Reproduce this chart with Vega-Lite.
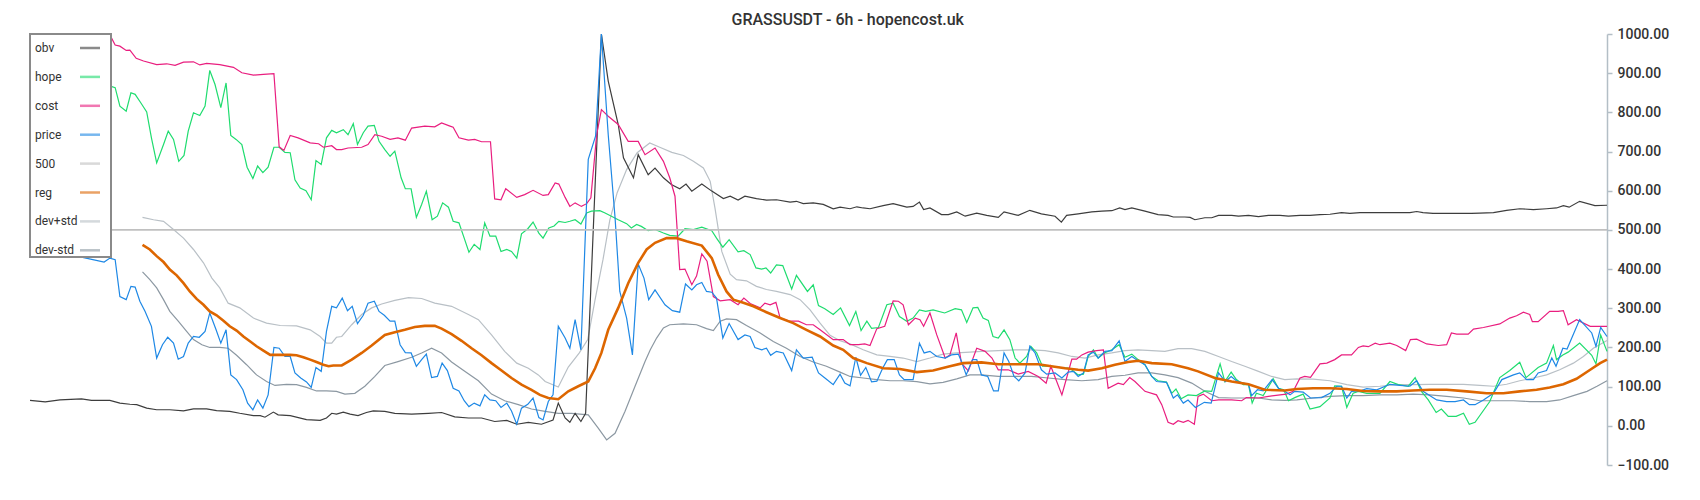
{
"$schema":"https://vega.github.io/schema/vega-lite/v6.json",
"width":1577,"height":431,
"autosize":{"type":"none"},
"padding":{"left":30,"top":34,"right":93,"bottom":35},
"title":{"text":"GRASSUSDT - 6h - hopencost.uk","fontSize":16,"font":"Roboto","fontWeight":500,"color":"#333333","anchor":"middle","frame":"bounds","offset":-1},
"data":{"values":[
{"s":"dev+std","t":21.4,"v":532},{"s":"dev+std","t":23.5,"v":526},{"s":"dev+std","t":25.4,"v":522},{"s":"dev+std","t":27.3,"v":501},{"s":"dev+std","t":29.2,"v":479},{"s":"dev+std","t":31.1,"v":450},{"s":"dev+std","t":33,"v":416},{"s":"dev+std","t":34.6,"v":377},{"s":"dev+std","t":36.1,"v":352},{"s":"dev+std","t":37.7,"v":313},{"s":"dev+std","t":39.9,"v":301},{"s":"dev+std","t":42.5,"v":275},{"s":"dev+std","t":45,"v":262},{"s":"dev+std","t":47.6,"v":256},{"s":"dev+std","t":50.7,"v":255},{"s":"dev+std","t":53.3,"v":245},{"s":"dev+std","t":55.2,"v":228},{"s":"dev+std","t":56.4,"v":211},{"s":"dev+std","t":57.4,"v":211},{"s":"dev+std","t":58.3,"v":226},{"s":"dev+std","t":59.3,"v":228},{"s":"dev+std","t":61.2,"v":258},{"s":"dev+std","t":63.1,"v":284},{"s":"dev+std","t":65,"v":301},{"s":"dev+std","t":66.9,"v":311},{"s":"dev+std","t":69.4,"v":320},{"s":"dev+std","t":72,"v":327},{"s":"dev+std","t":74.5,"v":325},{"s":"dev+std","t":77,"v":313},{"s":"dev+std","t":80.2,"v":305},{"s":"dev+std","t":83.4,"v":284},{"s":"dev+std","t":85.3,"v":271},{"s":"dev+std","t":87.8,"v":232},{"s":"dev+std","t":90.3,"v":190},{"s":"dev+std","t":92.6,"v":160},{"s":"dev+std","t":94.8,"v":147},{"s":"dev+std","t":96.7,"v":130},{"s":"dev+std","t":98,"v":113},{"s":"dev+std","t":100.5,"v":99},{"s":"dev+std","t":102.4,"v":150},{"s":"dev+std","t":104.5,"v":186},{"s":"dev+std","t":106.1,"v":220},{"s":"dev+std","t":107.5,"v":322},{"s":"dev+std","t":109,"v":424},{"s":"dev+std","t":110.3,"v":525},{"s":"dev+std","t":111.7,"v":595},{"s":"dev+std","t":113.5,"v":654},{"s":"dev+std","t":115.5,"v":697},{"s":"dev+std","t":117.9,"v":722},{"s":"dev+std","t":119.8,"v":711},{"s":"dev+std","t":122.1,"v":698},{"s":"dev+std","t":124.3,"v":690},{"s":"dev+std","t":126.2,"v":675},{"s":"dev+std","t":128.1,"v":658},{"s":"dev+std","t":129.4,"v":624},{"s":"dev+std","t":130.3,"v":556},{"s":"dev+std","t":131.6,"v":445},{"s":"dev+std","t":133.2,"v":387},{"s":"dev+std","t":134.4,"v":373},{"s":"dev+std","t":136.3,"v":370},{"s":"dev+std","t":138.2,"v":356},{"s":"dev+std","t":140.1,"v":348},{"s":"dev+std","t":142,"v":343},{"s":"dev+std","t":144.6,"v":335},{"s":"dev+std","t":146.5,"v":322},{"s":"dev+std","t":148.4,"v":296},{"s":"dev+std","t":150.3,"v":262},{"s":"dev+std","t":152.2,"v":231},{"s":"dev+std","t":154.1,"v":217},{"s":"dev+std","t":156,"v":209},{"s":"dev+std","t":158.5,"v":194},{"s":"dev+std","t":161.1,"v":181},{"s":"dev+std","t":163.6,"v":177},{"s":"dev+std","t":166.1,"v":173},{"s":"dev+std","t":168.7,"v":164},{"s":"dev+std","t":171.2,"v":173},{"s":"dev+std","t":173.7,"v":183},{"s":"dev+std","t":176.3,"v":186},{"s":"dev+std","t":178.8,"v":188},{"s":"dev+std","t":181,"v":190},{"s":"dev+std","t":184.2,"v":192},{"s":"dev+std","t":187.4,"v":194},{"s":"dev+std","t":190.5,"v":194},{"s":"dev+std","t":193.1,"v":192},{"s":"dev+std","t":195.6,"v":186},{"s":"dev+std","t":198.2,"v":177},{"s":"dev+std","t":200.7,"v":173},{"s":"dev+std","t":203.2,"v":181},{"s":"dev+std","t":205.8,"v":186},{"s":"dev+std","t":208.3,"v":192},{"s":"dev+std","t":210.8,"v":194},{"s":"dev+std","t":213.4,"v":192},{"s":"dev+std","t":215.9,"v":190},{"s":"dev+std","t":218.4,"v":197},{"s":"dev+std","t":221,"v":197},{"s":"dev+std","t":223.5,"v":190},{"s":"dev+std","t":226.1,"v":177},{"s":"dev+std","t":228.6,"v":164},{"s":"dev+std","t":231.1,"v":152},{"s":"dev+std","t":233.7,"v":139},{"s":"dev+std","t":236.2,"v":126},{"s":"dev+std","t":238.7,"v":118},{"s":"dev+std","t":241,"v":120},{"s":"dev+std","t":244.1,"v":119},{"s":"dev+std","t":247.3,"v":115},{"s":"dev+std","t":250.5,"v":105},{"s":"dev+std","t":253.6,"v":99},{"s":"dev+std","t":256.8,"v":101},{"s":"dev+std","t":260,"v":105},{"s":"dev+std","t":263.1,"v":105},{"s":"dev+std","t":266.3,"v":106},{"s":"dev+std","t":269.5,"v":106},{"s":"dev+std","t":272.7,"v":106},{"s":"dev+std","t":275.8,"v":103},{"s":"dev+std","t":278.4,"v":101},{"s":"dev+std","t":280.9,"v":106},{"s":"dev+std","t":283.4,"v":115},{"s":"dev+std","t":286,"v":122},{"s":"dev+std","t":288.5,"v":130},{"s":"dev+std","t":291,"v":143},{"s":"dev+std","t":293.6,"v":160},{"s":"dev+std","t":295.5,"v":177},{"s":"dev+std","t":297.4,"v":198},{"s":"dev+std","t":300,"v":218},
{"s":"dev-std","t":21.4,"v":393},{"s":"dev-std","t":22.8,"v":373},{"s":"dev-std","t":24.1,"v":352},{"s":"dev-std","t":25.4,"v":322},{"s":"dev-std","t":26.6,"v":292},{"s":"dev-std","t":28.2,"v":267},{"s":"dev-std","t":29.8,"v":241},{"s":"dev-std","t":31.1,"v":220},{"s":"dev-std","t":32.7,"v":207},{"s":"dev-std","t":34.2,"v":200},{"s":"dev-std","t":36.1,"v":200},{"s":"dev-std","t":37.7,"v":198},{"s":"dev-std","t":39.3,"v":180},{"s":"dev-std","t":41.2,"v":156},{"s":"dev-std","t":43.1,"v":130},{"s":"dev-std","t":45,"v":113},{"s":"dev-std","t":46.6,"v":103},{"s":"dev-std","t":48.8,"v":106},{"s":"dev-std","t":50.7,"v":105},{"s":"dev-std","t":52.6,"v":98},{"s":"dev-std","t":54.5,"v":89},{"s":"dev-std","t":56.4,"v":89},{"s":"dev-std","t":58.3,"v":88},{"s":"dev-std","t":59.9,"v":81},{"s":"dev-std","t":61.8,"v":83},{"s":"dev-std","t":63.7,"v":101},{"s":"dev-std","t":65.6,"v":126},{"s":"dev-std","t":67.5,"v":154},{"s":"dev-std","t":70,"v":164},{"s":"dev-std","t":72.6,"v":175},{"s":"dev-std","t":74.5,"v":186},{"s":"dev-std","t":76.4,"v":198},{"s":"dev-std","t":78.3,"v":186},{"s":"dev-std","t":80.2,"v":163},{"s":"dev-std","t":82.7,"v":139},{"s":"dev-std","t":85.3,"v":115},{"s":"dev-std","t":87.8,"v":81},{"s":"dev-std","t":90.3,"v":64},{"s":"dev-std","t":92.9,"v":54},{"s":"dev-std","t":95.4,"v":43},{"s":"dev-std","t":98,"v":37},{"s":"dev-std","t":100.5,"v":32},{"s":"dev-std","t":103,"v":32},{"s":"dev-std","t":106.2,"v":28},{"s":"dev-std","t":108.1,"v":-6},{"s":"dev-std","t":109.7,"v":-36},{"s":"dev-std","t":111.3,"v":-19},{"s":"dev-std","t":113.2,"v":37},{"s":"dev-std","t":115.1,"v":101},{"s":"dev-std","t":117,"v":164},{"s":"dev-std","t":118,"v":194},{"s":"dev-std","t":119.2,"v":224},{"s":"dev-std","t":120.5,"v":250},{"s":"dev-std","t":121.7,"v":258},{"s":"dev-std","t":124.3,"v":260},{"s":"dev-std","t":126.8,"v":258},{"s":"dev-std","t":128.7,"v":248},{"s":"dev-std","t":130,"v":243},{"s":"dev-std","t":131.3,"v":267},{"s":"dev-std","t":132.5,"v":273},{"s":"dev-std","t":134.4,"v":271},{"s":"dev-std","t":136.3,"v":256},{"s":"dev-std","t":138.9,"v":237},{"s":"dev-std","t":141.4,"v":215},{"s":"dev-std","t":143.9,"v":198},{"s":"dev-std","t":146.5,"v":177},{"s":"dev-std","t":149,"v":163},{"s":"dev-std","t":151.5,"v":152},{"s":"dev-std","t":154.1,"v":137},{"s":"dev-std","t":156,"v":126},{"s":"dev-std","t":158.5,"v":122},{"s":"dev-std","t":161.1,"v":118},{"s":"dev-std","t":163.6,"v":115},{"s":"dev-std","t":166.1,"v":115},{"s":"dev-std","t":168.7,"v":113},{"s":"dev-std","t":171.2,"v":107},{"s":"dev-std","t":173.7,"v":111},{"s":"dev-std","t":176.3,"v":120},{"s":"dev-std","t":178.8,"v":130},{"s":"dev-std","t":181,"v":130},{"s":"dev-std","t":184.2,"v":126},{"s":"dev-std","t":187.4,"v":126},{"s":"dev-std","t":190.5,"v":126},{"s":"dev-std","t":193.7,"v":122},{"s":"dev-std","t":196.9,"v":118},{"s":"dev-std","t":200.1,"v":115},{"s":"dev-std","t":203.2,"v":118},{"s":"dev-std","t":205.8,"v":126},{"s":"dev-std","t":208.3,"v":129},{"s":"dev-std","t":210.8,"v":135},{"s":"dev-std","t":213.4,"v":135},{"s":"dev-std","t":215.9,"v":130},{"s":"dev-std","t":218.4,"v":123},{"s":"dev-std","t":221,"v":109},{"s":"dev-std","t":223.5,"v":88},{"s":"dev-std","t":226.1,"v":72},{"s":"dev-std","t":228.6,"v":71},{"s":"dev-std","t":231.1,"v":71},{"s":"dev-std","t":233.7,"v":71},{"s":"dev-std","t":236.2,"v":66},{"s":"dev-std","t":238.7,"v":65},{"s":"dev-std","t":241,"v":66},{"s":"dev-std","t":244.1,"v":71},{"s":"dev-std","t":247.3,"v":75},{"s":"dev-std","t":250.5,"v":77},{"s":"dev-std","t":253.6,"v":77},{"s":"dev-std","t":256.8,"v":79},{"s":"dev-std","t":260,"v":79},{"s":"dev-std","t":263.1,"v":81},{"s":"dev-std","t":266.3,"v":79},{"s":"dev-std","t":269.5,"v":75},{"s":"dev-std","t":272.7,"v":71},{"s":"dev-std","t":275.8,"v":64},{"s":"dev-std","t":279,"v":64},{"s":"dev-std","t":282.2,"v":64},{"s":"dev-std","t":285.3,"v":62},{"s":"dev-std","t":288.5,"v":62},{"s":"dev-std","t":291,"v":66},{"s":"dev-std","t":293.6,"v":77},{"s":"dev-std","t":296.2,"v":88},{"s":"dev-std","t":298.1,"v":101},{"s":"dev-std","t":300,"v":115},
{"s":"500","t":0,"v":500},{"s":"500","t":300,"v":500},
{"s":"obv","t":0,"v":65},{"s":"obv","t":2.9,"v":61},{"s":"obv","t":5.7,"v":66},{"s":"obv","t":9.8,"v":69},{"s":"obv","t":11.7,"v":65},{"s":"obv","t":15.2,"v":65},{"s":"obv","t":17.1,"v":58},{"s":"obv","t":19,"v":55},{"s":"obv","t":20.3,"v":54},{"s":"obv","t":22.2,"v":45},{"s":"obv","t":24.1,"v":41},{"s":"obv","t":26.6,"v":41},{"s":"obv","t":29.2,"v":38},{"s":"obv","t":31.1,"v":43},{"s":"obv","t":33.6,"v":43},{"s":"obv","t":35.5,"v":39},{"s":"obv","t":38,"v":37},{"s":"obv","t":39.9,"v":32},{"s":"obv","t":42.5,"v":26},{"s":"obv","t":43.8,"v":26},{"s":"obv","t":44.7,"v":22},{"s":"obv","t":46.3,"v":35},{"s":"obv","t":47.2,"v":28},{"s":"obv","t":49.5,"v":26},{"s":"obv","t":52.6,"v":16},{"s":"obv","t":55.2,"v":14},{"s":"obv","t":56.4,"v":20},{"s":"obv","t":57.4,"v":32},{"s":"obv","t":58.3,"v":30},{"s":"obv","t":59.6,"v":35},{"s":"obv","t":60.9,"v":30},{"s":"obv","t":62.4,"v":26},{"s":"obv","t":64,"v":34},{"s":"obv","t":65.3,"v":38},{"s":"obv","t":67.5,"v":37},{"s":"obv","t":69.4,"v":32},{"s":"obv","t":72.6,"v":30},{"s":"obv","t":75.8,"v":32},{"s":"obv","t":78.3,"v":34},{"s":"obv","t":80.8,"v":23},{"s":"obv","t":83.4,"v":20},{"s":"obv","t":85.9,"v":20},{"s":"obv","t":88.4,"v":11},{"s":"obv","t":90.7,"v":14},{"s":"obv","t":92.6,"v":4},{"s":"obv","t":94.8,"v":9},{"s":"obv","t":97.3,"v":4},{"s":"obv","t":99.5,"v":15},{"s":"obv","t":100.5,"v":58},{"s":"obv","t":101.8,"v":20},{"s":"obv","t":102.7,"v":9},{"s":"obv","t":103.7,"v":32},{"s":"obv","t":104.8,"v":11},{"s":"obv","t":105.7,"v":32},{"s":"obv","t":108.7,"v":1000},{"s":"obv","t":110,"v":880},{"s":"obv","t":111.9,"v":769},{"s":"obv","t":112.9,"v":684},{"s":"obv","t":114.8,"v":633},{"s":"obv","t":115.7,"v":692},{"s":"obv","t":117.6,"v":641},{"s":"obv","t":118.9,"v":658},{"s":"obv","t":120.5,"v":633},{"s":"obv","t":122,"v":616},{"s":"obv","t":123.6,"v":605},{"s":"obv","t":124.8,"v":617},{"s":"obv","t":125.9,"v":599},{"s":"obv","t":127.8,"v":617},{"s":"obv","t":129.7,"v":599},{"s":"obv","t":131.9,"v":580},{"s":"obv","t":133.2,"v":586},{"s":"obv","t":134.7,"v":576},{"s":"obv","t":136,"v":586},{"s":"obv","t":138.2,"v":580},{"s":"obv","t":140.1,"v":576},{"s":"obv","t":142,"v":577},{"s":"obv","t":144.6,"v":571},{"s":"obv","t":145.8,"v":573},{"s":"obv","t":147.1,"v":567},{"s":"obv","t":149,"v":569},{"s":"obv","t":150.9,"v":565},{"s":"obv","t":152.8,"v":554},{"s":"obv","t":154.1,"v":558},{"s":"obv","t":156,"v":554},{"s":"obv","t":157.3,"v":559},{"s":"obv","t":158.5,"v":556},{"s":"obv","t":159.8,"v":554},{"s":"obv","t":162.3,"v":562},{"s":"obv","t":164.2,"v":567},{"s":"obv","t":166.8,"v":558},{"s":"obv","t":168,"v":560},{"s":"obv","t":169.2,"v":571},{"s":"obv","t":170,"v":552},{"s":"obv","t":171.2,"v":556},{"s":"obv","t":173.4,"v":539},{"s":"obv","t":174.7,"v":539},{"s":"obv","t":176.3,"v":546},{"s":"obv","t":177.9,"v":535},{"s":"obv","t":180.1,"v":543},{"s":"obv","t":182,"v":537},{"s":"obv","t":184.2,"v":532},{"s":"obv","t":185.3,"v":546},{"s":"obv","t":188,"v":537},{"s":"obv","t":190.2,"v":550},{"s":"obv","t":192.4,"v":541},{"s":"obv","t":195,"v":535},{"s":"obv","t":196.2,"v":520},{"s":"obv","t":197.2,"v":537},{"s":"obv","t":199.4,"v":541},{"s":"obv","t":202,"v":546},{"s":"obv","t":203.9,"v":548},{"s":"obv","t":205.8,"v":549},{"s":"obv","t":207.3,"v":556},{"s":"obv","t":208.3,"v":552},{"s":"obv","t":209.6,"v":556},{"s":"obv","t":212.1,"v":548},{"s":"obv","t":214.6,"v":539},{"s":"obv","t":216.5,"v":537},{"s":"obv","t":217.5,"v":533},{"s":"obv","t":219.7,"v":533},{"s":"obv","t":220.7,"v":532},{"s":"obv","t":221.6,"v":526},{"s":"obv","t":223.5,"v":531},{"s":"obv","t":224.8,"v":531},{"s":"obv","t":226.1,"v":537},{"s":"obv","t":228.6,"v":537},{"s":"obv","t":229.9,"v":535},{"s":"obv","t":231.8,"v":537},{"s":"obv","t":233.7,"v":534},{"s":"obv","t":235.6,"v":537},{"s":"obv","t":237.8,"v":537},{"s":"obv","t":239.4,"v":535},{"s":"obv","t":241.6,"v":537},{"s":"obv","t":243.5,"v":537},{"s":"obv","t":245.4,"v":539},{"s":"obv","t":247.3,"v":540},{"s":"obv","t":249.5,"v":544},{"s":"obv","t":251.1,"v":542},{"s":"obv","t":253,"v":544},{"s":"obv","t":255.5,"v":544},{"s":"obv","t":258.1,"v":544},{"s":"obv","t":260.6,"v":544},{"s":"obv","t":262.5,"v":544},{"s":"obv","t":263.8,"v":547},{"s":"obv","t":265,"v":544},{"s":"obv","t":266.9,"v":542},{"s":"obv","t":269.5,"v":542},{"s":"obv","t":272,"v":542},{"s":"obv","t":274.2,"v":542},{"s":"obv","t":275.8,"v":543},{"s":"obv","t":278.4,"v":544},{"s":"obv","t":280.9,"v":550},{"s":"obv","t":283.4,"v":554},{"s":"obv","t":286,"v":552},{"s":"obv","t":288.5,"v":554},{"s":"obv","t":290.4,"v":556},{"s":"obv","t":291.7,"v":562},{"s":"obv","t":292.8,"v":558},{"s":"obv","t":294.8,"v":573},{"s":"obv","t":297.7,"v":562},{"s":"obv","t":300,"v":563},
{"s":"hope","t":0,"v":870},{"s":"hope","t":5,"v":880},{"s":"hope","t":10,"v":860},{"s":"hope","t":15.3,"v":867},{"s":"hope","t":16.2,"v":863},{"s":"hope","t":17.1,"v":816},{"s":"hope","t":18.3,"v":803},{"s":"hope","t":19.2,"v":850},{"s":"hope","t":20,"v":846},{"s":"hope","t":21.1,"v":824},{"s":"hope","t":22.2,"v":801},{"s":"hope","t":23.1,"v":735},{"s":"hope","t":24.1,"v":671},{"s":"hope","t":25.4,"v":718},{"s":"hope","t":26.3,"v":752},{"s":"hope","t":27.3,"v":731},{"s":"hope","t":28.3,"v":675},{"s":"hope","t":29.3,"v":690},{"s":"hope","t":30.1,"v":752},{"s":"hope","t":31.1,"v":799},{"s":"hope","t":32.3,"v":792},{"s":"hope","t":33.3,"v":816},{"s":"hope","t":34.2,"v":907},{"s":"hope","t":35.2,"v":871},{"s":"hope","t":36.3,"v":812},{"s":"hope","t":37.3,"v":875},{"s":"hope","t":38.2,"v":741},{"s":"hope","t":39.2,"v":731},{"s":"hope","t":40.3,"v":718},{"s":"hope","t":41.3,"v":660},{"s":"hope","t":42.4,"v":631},{"s":"hope","t":43.3,"v":663},{"s":"hope","t":44.3,"v":646},{"s":"hope","t":45.3,"v":660},{"s":"hope","t":46.4,"v":711},{"s":"hope","t":47.4,"v":711},{"s":"hope","t":48.5,"v":698},{"s":"hope","t":49.5,"v":697},{"s":"hope","t":50.4,"v":628},{"s":"hope","t":51.4,"v":607},{"s":"hope","t":52.5,"v":600},{"s":"hope","t":53.5,"v":577},{"s":"hope","t":54.4,"v":677},{"s":"hope","t":55.4,"v":667},{"s":"hope","t":56.4,"v":735},{"s":"hope","t":57.4,"v":754},{"s":"hope","t":58.3,"v":748},{"s":"hope","t":59.6,"v":756},{"s":"hope","t":60.5,"v":743},{"s":"hope","t":61.5,"v":771},{"s":"hope","t":62.3,"v":718},{"s":"hope","t":63.4,"v":748},{"s":"hope","t":64.3,"v":765},{"s":"hope","t":65.5,"v":767},{"s":"hope","t":66.4,"v":726},{"s":"hope","t":67.5,"v":705},{"s":"hope","t":68.5,"v":688},{"s":"hope","t":69.4,"v":701},{"s":"hope","t":70.6,"v":633},{"s":"hope","t":71.4,"v":605},{"s":"hope","t":72.5,"v":605},{"s":"hope","t":73.5,"v":532},{"s":"hope","t":74.5,"v":565},{"s":"hope","t":75.4,"v":599},{"s":"hope","t":76.5,"v":526},{"s":"hope","t":77.5,"v":535},{"s":"hope","t":78.5,"v":569},{"s":"hope","t":79.6,"v":558},{"s":"hope","t":80.5,"v":522},{"s":"hope","t":81.6,"v":518},{"s":"hope","t":82.6,"v":479},{"s":"hope","t":83.5,"v":443},{"s":"hope","t":84.5,"v":463},{"s":"hope","t":85.6,"v":450},{"s":"hope","t":86.5,"v":518},{"s":"hope","t":87.5,"v":484},{"s":"hope","t":88.6,"v":484},{"s":"hope","t":89.6,"v":445},{"s":"hope","t":90.7,"v":450},{"s":"hope","t":91.6,"v":445},{"s":"hope","t":92.6,"v":428},{"s":"hope","t":93.5,"v":490},{"s":"hope","t":94.7,"v":503},{"s":"hope","t":95.7,"v":520},{"s":"hope","t":96.8,"v":492},{"s":"hope","t":97.6,"v":479},{"s":"hope","t":98.7,"v":505},{"s":"hope","t":99.7,"v":510},{"s":"hope","t":100.6,"v":522},{"s":"hope","t":101.8,"v":519},{"s":"hope","t":102.7,"v":522},{"s":"hope","t":103.7,"v":526},{"s":"hope","t":104.8,"v":515},{"s":"hope","t":105.9,"v":543},{"s":"hope","t":106.8,"v":548},{"s":"hope","t":108.4,"v":549},{"s":"hope","t":109.4,"v":543},{"s":"hope","t":110.6,"v":535},{"s":"hope","t":111.9,"v":526},{"s":"hope","t":113.5,"v":516},{"s":"hope","t":114.4,"v":505},{"s":"hope","t":115.4,"v":514},{"s":"hope","t":116.3,"v":509},{"s":"hope","t":117.6,"v":498},{"s":"hope","t":118.9,"v":501},{"s":"hope","t":120.5,"v":492},{"s":"hope","t":121.7,"v":486},{"s":"hope","t":123.3,"v":484},{"s":"hope","t":124.6,"v":503},{"s":"hope","t":126.2,"v":501},{"s":"hope","t":127.8,"v":507},{"s":"hope","t":129.7,"v":498},{"s":"hope","t":130.6,"v":479},{"s":"hope","t":131.8,"v":456},{"s":"hope","t":133,"v":475},{"s":"hope","t":134.7,"v":444},{"s":"hope","t":135.8,"v":447},{"s":"hope","t":137,"v":437},{"s":"hope","t":138.1,"v":403},{"s":"hope","t":139.2,"v":400},{"s":"hope","t":140,"v":403},{"s":"hope","t":140.9,"v":390},{"s":"hope","t":142,"v":411},{"s":"hope","t":143.2,"v":409},{"s":"hope","t":144.9,"v":349},{"s":"hope","t":145.8,"v":384},{"s":"hope","t":147.9,"v":343},{"s":"hope","t":149,"v":360},{"s":"hope","t":150,"v":307},{"s":"hope","t":151.2,"v":299},{"s":"hope","t":152.8,"v":284},{"s":"hope","t":154.2,"v":301},{"s":"hope","t":155.9,"v":256},{"s":"hope","t":157.1,"v":292},{"s":"hope","t":158.1,"v":243},{"s":"hope","t":159.2,"v":267},{"s":"hope","t":160.1,"v":249},{"s":"hope","t":161.4,"v":251},{"s":"hope","t":163,"v":309},{"s":"hope","t":164.2,"v":313},{"s":"hope","t":165.4,"v":279},{"s":"hope","t":166.8,"v":267},{"s":"hope","t":168,"v":275},{"s":"hope","t":169.2,"v":296},{"s":"hope","t":170.4,"v":292},{"s":"hope","t":171.8,"v":296},{"s":"hope","t":174,"v":288},{"s":"hope","t":176,"v":299},{"s":"hope","t":177.2,"v":296},{"s":"hope","t":178.2,"v":264},{"s":"hope","t":179.4,"v":301},{"s":"hope","t":180.3,"v":302},{"s":"hope","t":181.3,"v":275},{"s":"hope","t":182.3,"v":269},{"s":"hope","t":183.2,"v":228},{"s":"hope","t":184.2,"v":224},{"s":"hope","t":185.3,"v":245},{"s":"hope","t":186.4,"v":220},{"s":"hope","t":187.4,"v":173},{"s":"hope","t":188.3,"v":160},{"s":"hope","t":189.6,"v":177},{"s":"hope","t":190.4,"v":203},{"s":"hope","t":191.5,"v":186},{"s":"hope","t":192.6,"v":152},{"s":"hope","t":194,"v":152},{"s":"hope","t":195.9,"v":149},{"s":"hope","t":197.8,"v":147},{"s":"hope","t":199.4,"v":130},{"s":"hope","t":200.4,"v":132},{"s":"hope","t":201.3,"v":177},{"s":"hope","t":202.3,"v":194},{"s":"hope","t":203.2,"v":173},{"s":"hope","t":204.4,"v":186},{"s":"hope","t":205.8,"v":194},{"s":"hope","t":207.2,"v":207},{"s":"hope","t":208.3,"v":175},{"s":"hope","t":209.6,"v":183},{"s":"hope","t":210.8,"v":169},{"s":"hope","t":212.1,"v":156},{"s":"hope","t":213.4,"v":126},{"s":"hope","t":214.6,"v":115},{"s":"hope","t":216.2,"v":112},{"s":"hope","t":217.2,"v":83},{"s":"hope","t":218,"v":94},{"s":"hope","t":219,"v":69},{"s":"hope","t":220.3,"v":79},{"s":"hope","t":221.9,"v":77},{"s":"hope","t":223.5,"v":89},{"s":"hope","t":224.8,"v":88},{"s":"hope","t":226.4,"v":158},{"s":"hope","t":227.3,"v":113},{"s":"hope","t":228.5,"v":137},{"s":"hope","t":229.5,"v":118},{"s":"hope","t":230.8,"v":105},{"s":"hope","t":231.8,"v":105},{"s":"hope","t":232.5,"v":58},{"s":"hope","t":233.3,"v":83},{"s":"hope","t":234.6,"v":77},{"s":"hope","t":236.5,"v":120},{"s":"hope","t":237.5,"v":96},{"s":"hope","t":238.5,"v":92},{"s":"hope","t":239.4,"v":64},{"s":"hope","t":240.6,"v":72},{"s":"hope","t":242.2,"v":81},{"s":"hope","t":243.5,"v":43},{"s":"hope","t":245.4,"v":49},{"s":"hope","t":247.3,"v":71},{"s":"hope","t":248.2,"v":102},{"s":"hope","t":249.5,"v":101},{"s":"hope","t":250.5,"v":47},{"s":"hope","t":251.7,"v":83},{"s":"hope","t":252.7,"v":88},{"s":"hope","t":254.3,"v":83},{"s":"hope","t":256.8,"v":83},{"s":"hope","t":258.7,"v":113},{"s":"hope","t":260.3,"v":105},{"s":"hope","t":262.2,"v":101},{"s":"hope","t":263.5,"v":123},{"s":"hope","t":264.7,"v":88},{"s":"hope","t":266,"v":66},{"s":"hope","t":267.5,"v":34},{"s":"hope","t":268.5,"v":43},{"s":"hope","t":269.8,"v":24},{"s":"hope","t":271.3,"v":24},{"s":"hope","t":272.7,"v":32},{"s":"hope","t":273.8,"v":4},{"s":"hope","t":274.9,"v":9},{"s":"hope","t":277.7,"v":62},{"s":"hope","t":279.6,"v":123},{"s":"hope","t":281.5,"v":141},{"s":"hope","t":283.4,"v":162},{"s":"hope","t":284.6,"v":123},{"s":"hope","t":286.9,"v":149},{"s":"hope","t":288.5,"v":160},{"s":"hope","t":289.8,"v":205},{"s":"hope","t":290.4,"v":169},{"s":"hope","t":291.6,"v":181},{"s":"hope","t":292.6,"v":188},{"s":"hope","t":294.8,"v":211},{"s":"hope","t":297.1,"v":180},{"s":"hope","t":297.9,"v":158},{"s":"hope","t":298.8,"v":232},{"s":"hope","t":300,"v":190},
{"s":"cost","t":0,"v":998},{"s":"cost","t":8,"v":996},{"s":"cost","t":15.3,"v":995},{"s":"cost","t":16.2,"v":972},{"s":"cost","t":17.1,"v":969},{"s":"cost","t":18.3,"v":958},{"s":"cost","t":19,"v":959},{"s":"cost","t":20.2,"v":938},{"s":"cost","t":21.6,"v":931},{"s":"cost","t":24.1,"v":922},{"s":"cost","t":26,"v":924},{"s":"cost","t":27.6,"v":920},{"s":"cost","t":29.2,"v":928},{"s":"cost","t":31.1,"v":929},{"s":"cost","t":32.3,"v":921},{"s":"cost","t":33.6,"v":925},{"s":"cost","t":36.1,"v":922},{"s":"cost","t":38.7,"v":915},{"s":"cost","t":40.3,"v":901},{"s":"cost","t":42.5,"v":895},{"s":"cost","t":44.4,"v":897},{"s":"cost","t":46.4,"v":899},{"s":"cost","t":47.4,"v":712},{"s":"cost","t":48.3,"v":703},{"s":"cost","t":49.5,"v":741},{"s":"cost","t":51,"v":735},{"s":"cost","t":53.3,"v":722},{"s":"cost","t":54.9,"v":720},{"s":"cost","t":55.8,"v":711},{"s":"cost","t":57.4,"v":715},{"s":"cost","t":58.3,"v":705},{"s":"cost","t":59.3,"v":705},{"s":"cost","t":60.5,"v":709},{"s":"cost","t":63.1,"v":711},{"s":"cost","t":64.3,"v":718},{"s":"cost","t":65.6,"v":743},{"s":"cost","t":66.9,"v":739},{"s":"cost","t":68.5,"v":731},{"s":"cost","t":70,"v":735},{"s":"cost","t":71.4,"v":729},{"s":"cost","t":72.6,"v":760},{"s":"cost","t":75.1,"v":765},{"s":"cost","t":77,"v":763},{"s":"cost","t":78.3,"v":773},{"s":"cost","t":79.9,"v":765},{"s":"cost","t":80.5,"v":762},{"s":"cost","t":81.6,"v":735},{"s":"cost","t":83.4,"v":729},{"s":"cost","t":84.6,"v":731},{"s":"cost","t":85.9,"v":725},{"s":"cost","t":87.6,"v":725},{"s":"cost","t":88.4,"v":579},{"s":"cost","t":89.6,"v":577},{"s":"cost","t":90.5,"v":605},{"s":"cost","t":92.6,"v":583},{"s":"cost","t":94.1,"v":590},{"s":"cost","t":95.7,"v":601},{"s":"cost","t":97.6,"v":588},{"s":"cost","t":98.6,"v":590},{"s":"cost","t":99.9,"v":620},{"s":"cost","t":100.6,"v":617},{"s":"cost","t":101.8,"v":583},{"s":"cost","t":102.7,"v":560},{"s":"cost","t":103.7,"v":569},{"s":"cost","t":104.9,"v":560},{"s":"cost","t":105.9,"v":567},{"s":"cost","t":106.7,"v":582},{"s":"cost","t":107.8,"v":743},{"s":"cost","t":108.7,"v":807},{"s":"cost","t":110,"v":790},{"s":"cost","t":111.9,"v":769},{"s":"cost","t":113.8,"v":726},{"s":"cost","t":115.7,"v":726},{"s":"cost","t":117,"v":692},{"s":"cost","t":118.9,"v":709},{"s":"cost","t":120.5,"v":675},{"s":"cost","t":121.7,"v":633},{"s":"cost","t":122.7,"v":586},{"s":"cost","t":123.6,"v":399},{"s":"cost","t":124.6,"v":400},{"s":"cost","t":125.9,"v":360},{"s":"cost","t":126.8,"v":382},{"s":"cost","t":127.8,"v":439},{"s":"cost","t":128.8,"v":420},{"s":"cost","t":130,"v":330},{"s":"cost","t":131.3,"v":319},{"s":"cost","t":133.2,"v":322},{"s":"cost","t":134.7,"v":309},{"s":"cost","t":135.8,"v":326},{"s":"cost","t":137,"v":312},{"s":"cost","t":138.9,"v":301},{"s":"cost","t":139.8,"v":313},{"s":"cost","t":140.8,"v":309},{"s":"cost","t":141.9,"v":315},{"s":"cost","t":142.7,"v":275},{"s":"cost","t":144.6,"v":267},{"s":"cost","t":146.2,"v":267},{"s":"cost","t":147.7,"v":258},{"s":"cost","t":149,"v":258},{"s":"cost","t":150.3,"v":245},{"s":"cost","t":152.8,"v":220},{"s":"cost","t":154.7,"v":220},{"s":"cost","t":156,"v":207},{"s":"cost","t":157.6,"v":207},{"s":"cost","t":158.8,"v":209},{"s":"cost","t":159.8,"v":205},{"s":"cost","t":161.1,"v":248},{"s":"cost","t":162.6,"v":254},{"s":"cost","t":164.2,"v":319},{"s":"cost","t":165.2,"v":318},{"s":"cost","t":166.1,"v":309},{"s":"cost","t":167.1,"v":258},{"s":"cost","t":168.4,"v":275},{"s":"cost","t":169.3,"v":271},{"s":"cost","t":170,"v":254},{"s":"cost","t":171.2,"v":288},{"s":"cost","t":172.5,"v":232},{"s":"cost","t":174.1,"v":173},{"s":"cost","t":175,"v":181},{"s":"cost","t":176.2,"v":237},{"s":"cost","t":177.2,"v":160},{"s":"cost","t":178.5,"v":140},{"s":"cost","t":180.1,"v":198},{"s":"cost","t":181.7,"v":190},{"s":"cost","t":183,"v":173},{"s":"cost","t":184.2,"v":143},{"s":"cost","t":186.1,"v":143},{"s":"cost","t":188,"v":132},{"s":"cost","t":189.9,"v":139},{"s":"cost","t":191.8,"v":126},{"s":"cost","t":193.3,"v":109},{"s":"cost","t":194.2,"v":152},{"s":"cost","t":196.3,"v":79},{"s":"cost","t":197.2,"v":122},{"s":"cost","t":198.2,"v":170},{"s":"cost","t":199.1,"v":170},{"s":"cost","t":200.1,"v":181},{"s":"cost","t":201.3,"v":188},{"s":"cost","t":202.9,"v":192},{"s":"cost","t":204.2,"v":194},{"s":"cost","t":205.1,"v":96},{"s":"cost","t":207,"v":109},{"s":"cost","t":208,"v":105},{"s":"cost","t":209.2,"v":123},{"s":"cost","t":210.2,"v":113},{"s":"cost","t":212.1,"v":88},{"s":"cost","t":214.3,"v":79},{"s":"cost","t":215.3,"v":54},{"s":"cost","t":216.5,"v":9},{"s":"cost","t":217.5,"v":4},{"s":"cost","t":218.4,"v":13},{"s":"cost","t":219.4,"v":9},{"s":"cost","t":220.3,"v":14},{"s":"cost","t":221.5,"v":4},{"s":"cost","t":222.2,"v":75},{"s":"cost","t":223.2,"v":81},{"s":"cost","t":224.8,"v":64},{"s":"cost","t":226.1,"v":66},{"s":"cost","t":228.6,"v":66},{"s":"cost","t":230.5,"v":64},{"s":"cost","t":231.4,"v":72},{"s":"cost","t":233.7,"v":71},{"s":"cost","t":235.6,"v":75},{"s":"cost","t":237.8,"v":79},{"s":"cost","t":239,"v":81},{"s":"cost","t":240.3,"v":88},{"s":"cost","t":241.6,"v":122},{"s":"cost","t":242.5,"v":126},{"s":"cost","t":243.6,"v":124},{"s":"cost","t":245.4,"v":158},{"s":"cost","t":246.7,"v":160},{"s":"cost","t":248.2,"v":169},{"s":"cost","t":249.5,"v":181},{"s":"cost","t":251.4,"v":181},{"s":"cost","t":252.7,"v":200},{"s":"cost","t":253.6,"v":204},{"s":"cost","t":254.6,"v":202},{"s":"cost","t":255.9,"v":211},{"s":"cost","t":256.8,"v":207},{"s":"cost","t":258.7,"v":211},{"s":"cost","t":260,"v":205},{"s":"cost","t":261.7,"v":192},{"s":"cost","t":262.6,"v":220},{"s":"cost","t":263.8,"v":221},{"s":"cost","t":265.7,"v":209},{"s":"cost","t":267.9,"v":205},{"s":"cost","t":269.5,"v":207},{"s":"cost","t":270.4,"v":237},{"s":"cost","t":271.4,"v":234},{"s":"cost","t":273.6,"v":234},{"s":"cost","t":274.6,"v":247},{"s":"cost","t":276.5,"v":251},{"s":"cost","t":279.6,"v":260},{"s":"cost","t":281.5,"v":275},{"s":"cost","t":282.8,"v":281},{"s":"cost","t":284.1,"v":290},{"s":"cost","t":285.3,"v":284},{"s":"cost","t":285.8,"v":266},{"s":"cost","t":286.9,"v":266},{"s":"cost","t":289.1,"v":292},{"s":"cost","t":290.7,"v":292},{"s":"cost","t":291.7,"v":294},{"s":"cost","t":292.6,"v":258},{"s":"cost","t":294.2,"v":271},{"s":"cost","t":296.8,"v":254},{"s":"cost","t":298,"v":254},{"s":"cost","t":300,"v":254},
{"s":"price","t":0,"v":440},{"s":"price","t":5,"v":450},{"s":"price","t":10,"v":430},{"s":"price","t":14.1,"v":418},{"s":"price","t":15.2,"v":428},{"s":"price","t":16.2,"v":424},{"s":"price","t":17.1,"v":330},{"s":"price","t":18.3,"v":322},{"s":"price","t":19.2,"v":356},{"s":"price","t":20,"v":354},{"s":"price","t":20.9,"v":318},{"s":"price","t":21.9,"v":292},{"s":"price","t":23.1,"v":254},{"s":"price","t":24.1,"v":173},{"s":"price","t":25.2,"v":207},{"s":"price","t":26.2,"v":226},{"s":"price","t":27.3,"v":211},{"s":"price","t":28.2,"v":170},{"s":"price","t":29.2,"v":177},{"s":"price","t":30.1,"v":211},{"s":"price","t":31.1,"v":228},{"s":"price","t":32.2,"v":226},{"s":"price","t":33.3,"v":241},{"s":"price","t":34.2,"v":288},{"s":"price","t":35.4,"v":245},{"s":"price","t":36.3,"v":211},{"s":"price","t":37.3,"v":245},{"s":"price","t":38.2,"v":130},{"s":"price","t":39.3,"v":118},{"s":"price","t":40.5,"v":92},{"s":"price","t":41.4,"v":58},{"s":"price","t":42.4,"v":41},{"s":"price","t":43.3,"v":66},{"s":"price","t":44.3,"v":45},{"s":"price","t":45.3,"v":79},{"s":"price","t":46.4,"v":200},{"s":"price","t":47.4,"v":198},{"s":"price","t":48.5,"v":177},{"s":"price","t":49.5,"v":177},{"s":"price","t":50.4,"v":135},{"s":"price","t":51.5,"v":122},{"s":"price","t":52.6,"v":112},{"s":"price","t":53.5,"v":98},{"s":"price","t":54.4,"v":149},{"s":"price","t":55.4,"v":139},{"s":"price","t":56.4,"v":241},{"s":"price","t":57.4,"v":305},{"s":"price","t":58.3,"v":301},{"s":"price","t":59.4,"v":326},{"s":"price","t":60.4,"v":294},{"s":"price","t":61.3,"v":305},{"s":"price","t":62.3,"v":261},{"s":"price","t":63.4,"v":282},{"s":"price","t":64.3,"v":313},{"s":"price","t":65.5,"v":318},{"s":"price","t":66.4,"v":292},{"s":"price","t":67.4,"v":282},{"s":"price","t":68.5,"v":267},{"s":"price","t":69.4,"v":267},{"s":"price","t":70.4,"v":207},{"s":"price","t":71.4,"v":187},{"s":"price","t":72.5,"v":186},{"s":"price","t":73.5,"v":152},{"s":"price","t":74.5,"v":169},{"s":"price","t":75.4,"v":183},{"s":"price","t":76.4,"v":123},{"s":"price","t":77.5,"v":126},{"s":"price","t":78.4,"v":160},{"s":"price","t":79.4,"v":141},{"s":"price","t":80.5,"v":96},{"s":"price","t":81.6,"v":89},{"s":"price","t":82.6,"v":64},{"s":"price","t":83.5,"v":49},{"s":"price","t":84.5,"v":58},{"s":"price","t":85.6,"v":51},{"s":"price","t":86.5,"v":79},{"s":"price","t":87.5,"v":66},{"s":"price","t":88.6,"v":64},{"s":"price","t":89.6,"v":47},{"s":"price","t":90.7,"v":58},{"s":"price","t":91.6,"v":38},{"s":"price","t":92.6,"v":4},{"s":"price","t":93.5,"v":45},{"s":"price","t":94.7,"v":55},{"s":"price","t":95.7,"v":71},{"s":"price","t":96.8,"v":21},{"s":"price","t":97.6,"v":15},{"s":"price","t":98.6,"v":62},{"s":"price","t":99.5,"v":79},{"s":"price","t":100.5,"v":254},{"s":"price","t":101.8,"v":224},{"s":"price","t":102.7,"v":198},{"s":"price","t":103.7,"v":271},{"s":"price","t":104.8,"v":194},{"s":"price","t":106.2,"v":680},{"s":"price","t":107.6,"v":740},{"s":"price","t":108.7,"v":1000},{"s":"price","t":110,"v":743},{"s":"price","t":111.3,"v":531},{"s":"price","t":112.2,"v":343},{"s":"price","t":113.5,"v":275},{"s":"price","t":114.6,"v":181},{"s":"price","t":115.7,"v":413},{"s":"price","t":116.8,"v":377},{"s":"price","t":117.7,"v":322},{"s":"price","t":118.9,"v":347},{"s":"price","t":120.8,"v":309},{"s":"price","t":122.2,"v":294},{"s":"price","t":123.6,"v":290},{"s":"price","t":124.7,"v":362},{"s":"price","t":125.9,"v":347},{"s":"price","t":126.8,"v":360},{"s":"price","t":127.8,"v":366},{"s":"price","t":128.7,"v":343},{"s":"price","t":129.7,"v":341},{"s":"price","t":130.6,"v":326},{"s":"price","t":131.8,"v":224},{"s":"price","t":133,"v":261},{"s":"price","t":134.7,"v":220},{"s":"price","t":136,"v":232},{"s":"price","t":137,"v":228},{"s":"price","t":137.9,"v":200},{"s":"price","t":139.2,"v":194},{"s":"price","t":140.1,"v":198},{"s":"price","t":140.9,"v":180},{"s":"price","t":142,"v":190},{"s":"price","t":143.3,"v":186},{"s":"price","t":144.9,"v":141},{"s":"price","t":145.8,"v":194},{"s":"price","t":147.1,"v":173},{"s":"price","t":148.8,"v":175},{"s":"price","t":150,"v":135},{"s":"price","t":151.4,"v":120},{"s":"price","t":152.8,"v":105},{"s":"price","t":154.1,"v":132},{"s":"price","t":155,"v":109},{"s":"price","t":156,"v":102},{"s":"price","t":157.1,"v":175},{"s":"price","t":158,"v":129},{"s":"price","t":159,"v":149},{"s":"price","t":160.1,"v":112},{"s":"price","t":161.1,"v":114},{"s":"price","t":162.2,"v":147},{"s":"price","t":163.1,"v":169},{"s":"price","t":164.4,"v":169},{"s":"price","t":165.4,"v":130},{"s":"price","t":166.3,"v":118},{"s":"price","t":168,"v":118},{"s":"price","t":169.2,"v":211},{"s":"price","t":170.1,"v":186},{"s":"price","t":171.2,"v":190},{"s":"price","t":172.5,"v":177},{"s":"price","t":174.1,"v":173},{"s":"price","t":175.3,"v":181},{"s":"price","t":176.6,"v":183},{"s":"price","t":177.2,"v":164},{"s":"price","t":178.1,"v":130},{"s":"price","t":179.3,"v":169},{"s":"price","t":180.1,"v":169},{"s":"price","t":181,"v":130},{"s":"price","t":182.2,"v":126},{"s":"price","t":183.3,"v":89},{"s":"price","t":184.2,"v":89},{"s":"price","t":185.3,"v":186},{"s":"price","t":186.2,"v":164},{"s":"price","t":187.2,"v":126},{"s":"price","t":188.1,"v":115},{"s":"price","t":189.3,"v":135},{"s":"price","t":190.2,"v":203},{"s":"price","t":191.2,"v":186},{"s":"price","t":192.4,"v":143},{"s":"price","t":193.4,"v":132},{"s":"price","t":195,"v":135},{"s":"price","t":196.3,"v":122},{"s":"price","t":197.5,"v":137},{"s":"price","t":198.5,"v":139},{"s":"price","t":199.4,"v":126},{"s":"price","t":200.4,"v":135},{"s":"price","t":201.3,"v":181},{"s":"price","t":202.3,"v":188},{"s":"price","t":203.2,"v":173},{"s":"price","t":204.5,"v":190},{"s":"price","t":205.8,"v":192},{"s":"price","t":207.2,"v":217},{"s":"price","t":208.3,"v":164},{"s":"price","t":209.6,"v":177},{"s":"price","t":210.8,"v":166},{"s":"price","t":212.1,"v":156},{"s":"price","t":213.4,"v":126},{"s":"price","t":214.3,"v":113},{"s":"price","t":216.2,"v":111},{"s":"price","t":217.5,"v":71},{"s":"price","t":218.3,"v":79},{"s":"price","t":219.4,"v":58},{"s":"price","t":220.3,"v":66},{"s":"price","t":221.7,"v":47},{"s":"price","t":223.4,"v":60},{"s":"price","t":224.7,"v":58},{"s":"price","t":226.1,"v":135},{"s":"price","t":227.4,"v":113},{"s":"price","t":228.5,"v":126},{"s":"price","t":229.5,"v":115},{"s":"price","t":230.8,"v":109},{"s":"price","t":231.8,"v":106},{"s":"price","t":232.4,"v":77},{"s":"price","t":233.5,"v":92},{"s":"price","t":234.6,"v":89},{"s":"price","t":236.3,"v":118},{"s":"price","t":237.5,"v":96},{"s":"price","t":238.7,"v":88},{"s":"price","t":239.7,"v":79},{"s":"price","t":240.6,"v":88},{"s":"price","t":242.2,"v":86},{"s":"price","t":243.6,"v":71},{"s":"price","t":245.7,"v":72},{"s":"price","t":247.3,"v":83},{"s":"price","t":248.6,"v":101},{"s":"price","t":249.5,"v":101},{"s":"price","t":250.5,"v":71},{"s":"price","t":251.4,"v":88},{"s":"price","t":253,"v":89},{"s":"price","t":254.3,"v":95},{"s":"price","t":256.2,"v":92},{"s":"price","t":258.7,"v":106},{"s":"price","t":260.6,"v":103},{"s":"price","t":262.5,"v":101},{"s":"price","t":263.8,"v":115},{"s":"price","t":265,"v":88},{"s":"price","t":267.6,"v":66},{"s":"price","t":269.5,"v":62},{"s":"price","t":271.1,"v":62},{"s":"price","t":272.7,"v":66},{"s":"price","t":273.8,"v":54},{"s":"price","t":274.9,"v":54},{"s":"price","t":276.5,"v":66},{"s":"price","t":278.4,"v":83},{"s":"price","t":280,"v":118},{"s":"price","t":282.2,"v":130},{"s":"price","t":283.4,"v":135},{"s":"price","t":284.7,"v":118},{"s":"price","t":286,"v":118},{"s":"price","t":286.9,"v":135},{"s":"price","t":288.5,"v":141},{"s":"price","t":289.5,"v":173},{"s":"price","t":290.3,"v":152},{"s":"price","t":291.6,"v":198},{"s":"price","t":292.4,"v":196},{"s":"price","t":294.8,"v":271},{"s":"price","t":297.1,"v":237},{"s":"price","t":297.9,"v":203},{"s":"price","t":298.8,"v":251},{"s":"price","t":300,"v":228},
{"s":"reg","t":21.4,"v":462},{"s":"reg","t":22.8,"v":450},{"s":"reg","t":24.1,"v":433},{"s":"reg","t":25.4,"v":418},{"s":"reg","t":26.6,"v":399},{"s":"reg","t":27.9,"v":384},{"s":"reg","t":29.2,"v":364},{"s":"reg","t":30.4,"v":343},{"s":"reg","t":31.7,"v":324},{"s":"reg","t":33,"v":309},{"s":"reg","t":34.2,"v":292},{"s":"reg","t":35.5,"v":282},{"s":"reg","t":36.8,"v":268},{"s":"reg","t":38,"v":254},{"s":"reg","t":39.3,"v":243},{"s":"reg","t":40.6,"v":228},{"s":"reg","t":41.9,"v":215},{"s":"reg","t":43.1,"v":203},{"s":"reg","t":44.4,"v":192},{"s":"reg","t":45.7,"v":181},{"s":"reg","t":46.9,"v":181},{"s":"reg","t":48.2,"v":181},{"s":"reg","t":49.5,"v":181},{"s":"reg","t":50.7,"v":180},{"s":"reg","t":52,"v":175},{"s":"reg","t":53.3,"v":169},{"s":"reg","t":54.5,"v":163},{"s":"reg","t":55.8,"v":156},{"s":"reg","t":56.8,"v":152},{"s":"reg","t":57.7,"v":154},{"s":"reg","t":59.3,"v":154},{"s":"reg","t":61.2,"v":169},{"s":"reg","t":63.1,"v":186},{"s":"reg","t":65,"v":205},{"s":"reg","t":67.5,"v":232},{"s":"reg","t":69.4,"v":239},{"s":"reg","t":71.3,"v":245},{"s":"reg","t":73.2,"v":252},{"s":"reg","t":75.1,"v":255},{"s":"reg","t":77,"v":255},{"s":"reg","t":78.3,"v":248},{"s":"reg","t":80.2,"v":234},{"s":"reg","t":82.1,"v":217},{"s":"reg","t":84,"v":198},{"s":"reg","t":85.9,"v":180},{"s":"reg","t":87.8,"v":160},{"s":"reg","t":89.7,"v":141},{"s":"reg","t":91.6,"v":122},{"s":"reg","t":93.5,"v":105},{"s":"reg","t":95.4,"v":92},{"s":"reg","t":97,"v":79},{"s":"reg","t":98.6,"v":71},{"s":"reg","t":100.5,"v":68},{"s":"reg","t":102.4,"v":88},{"s":"reg","t":104.3,"v":101},{"s":"reg","t":106.2,"v":113},{"s":"reg","t":107.5,"v":147},{"s":"reg","t":108.7,"v":186},{"s":"reg","t":110,"v":245},{"s":"reg","t":111.9,"v":301},{"s":"reg","t":113.8,"v":364},{"s":"reg","t":115.7,"v":416},{"s":"reg","t":117.3,"v":450},{"s":"reg","t":118.9,"v":467},{"s":"reg","t":121.1,"v":479},{"s":"reg","t":123,"v":479},{"s":"reg","t":124.9,"v":471},{"s":"reg","t":127.8,"v":460},{"s":"reg","t":129.7,"v":428},{"s":"reg","t":130.9,"v":386},{"s":"reg","t":132.5,"v":343},{"s":"reg","t":133.8,"v":322},{"s":"reg","t":135.7,"v":314},{"s":"reg","t":137.6,"v":305},{"s":"reg","t":140.1,"v":290},{"s":"reg","t":142.7,"v":275},{"s":"reg","t":145.2,"v":262},{"s":"reg","t":147.7,"v":245},{"s":"reg","t":150.3,"v":228},{"s":"reg","t":152.8,"v":205},{"s":"reg","t":154.7,"v":194},{"s":"reg","t":156.6,"v":173},{"s":"reg","t":159.2,"v":160},{"s":"reg","t":162.3,"v":147},{"s":"reg","t":165.5,"v":145},{"s":"reg","t":168.7,"v":137},{"s":"reg","t":171.8,"v":141},{"s":"reg","t":175,"v":152},{"s":"reg","t":177.5,"v":160},{"s":"reg","t":181,"v":162},{"s":"reg","t":184.2,"v":157},{"s":"reg","t":187.4,"v":157},{"s":"reg","t":191.8,"v":157},{"s":"reg","t":194.3,"v":152},{"s":"reg","t":196.9,"v":147},{"s":"reg","t":199.4,"v":143},{"s":"reg","t":201.3,"v":141},{"s":"reg","t":203.9,"v":147},{"s":"reg","t":206.4,"v":156},{"s":"reg","t":208.9,"v":163},{"s":"reg","t":210.8,"v":166},{"s":"reg","t":213.4,"v":160},{"s":"reg","t":217.2,"v":157},{"s":"reg","t":220.3,"v":147},{"s":"reg","t":222.2,"v":139},{"s":"reg","t":225.4,"v":122},{"s":"reg","t":228.6,"v":113},{"s":"reg","t":231.8,"v":106},{"s":"reg","t":234.9,"v":92},{"s":"reg","t":238.7,"v":90},{"s":"reg","t":241,"v":94},{"s":"reg","t":244.1,"v":96},{"s":"reg","t":247.3,"v":96},{"s":"reg","t":250.5,"v":94},{"s":"reg","t":253.6,"v":89},{"s":"reg","t":256.8,"v":88},{"s":"reg","t":260,"v":88},{"s":"reg","t":263.1,"v":90},{"s":"reg","t":266.3,"v":92},{"s":"reg","t":269.5,"v":92},{"s":"reg","t":273.3,"v":88},{"s":"reg","t":277.1,"v":83},{"s":"reg","t":280.3,"v":83},{"s":"reg","t":283.4,"v":88},{"s":"reg","t":286.6,"v":92},{"s":"reg","t":289.1,"v":98},{"s":"reg","t":291.7,"v":106},{"s":"reg","t":294.2,"v":120},{"s":"reg","t":296.8,"v":143},{"s":"reg","t":298.7,"v":160},{"s":"reg","t":300,"v":169}
]},
"encoding":{
"x":{"field":"t","type":"quantitative","scale":{"domain":[0,300],"nice":false,"zero":false},"axis":null},
"y":{"field":"v","type":"quantitative","scale":{"domain":[-100,1000],"nice":false,"zero":false},
"axis":{"orient":"right","values":[-100,0,100,200,300,400,500,600,700,800,900,1000],"format":".2f","grid":false,"title":null,"domainColor":"#b3bec6","domainWidth":1.5,"tickColor":"#b3bec6","tickWidth":1.5,"tickSize":5,"labelFont":"Roboto","labelFontSize":14,"labelFontWeight":500,"labelColor":"#333333","labelPadding":5}},
"color":{"field":"s","type":"nominal",
"scale":{"domain":["obv","hope","cost","price","500","reg","dev+std","dev-std"],"range":["#3d3d3d","#1fdc6f","#e91e7f","#1e88e5","#c0c0c0","#dd6600","#b9c0c6","#8c98a2"]},
"legend":{"title":null,"orient":"none","legendX":0,"legendY":0,"symbolType":"stroke","symbolSize":144,"symbolStrokeWidth":2.5,"symbolOpacity":0.6,"labelFont":"Roboto","labelFontSize":12,"labelColor":"#333333","fillColor":"white","strokeColor":"#8a8a8a","padding":0,"rowPadding":8.9,
"encode":{"labels":{"update":{"x":{"value":5}}},"symbols":{"update":{"x":{"value":62.7},"size":{"value":645},"strokeDash":{"value":[20,60]}}}}}}
},
"layer":[
{"transform":[{"filter":"datum.s !== 'reg' && datum.s !== '500'"}],"mark":{"type":"line","strokeWidth":1.2}},
{"transform":[{"filter":"datum.s === '500'"}],"mark":{"type":"line","strokeWidth":1.6}},
{"transform":[{"filter":"datum.s === 'reg'"}],"mark":{"type":"line","strokeWidth":2.6}}
],
"config":{"view":{"stroke":null},"legend":{"strokeWidth":2}}
}
